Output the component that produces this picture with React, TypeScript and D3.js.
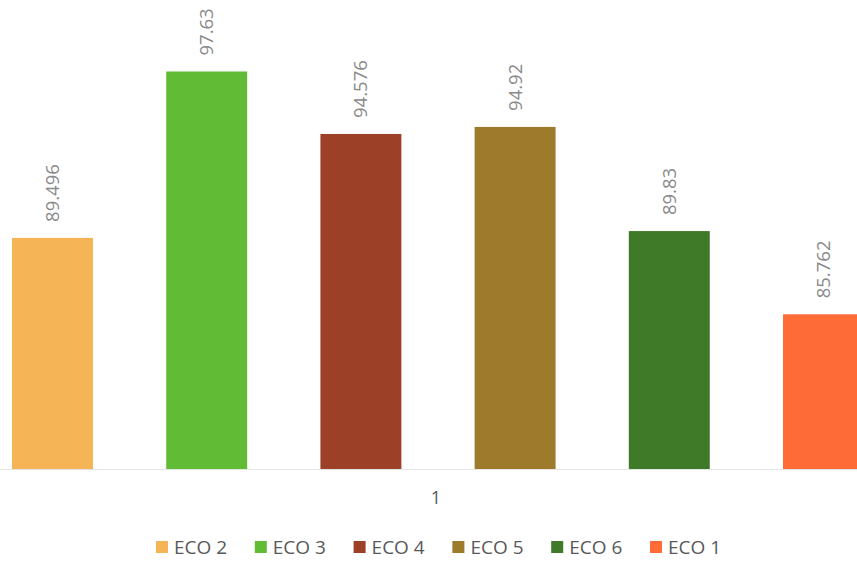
import React from "react";
import * as d3 from "d3";

const seriesNames = ["ECO 2", "ECO 3", "ECO 4", "ECO 5", "ECO 6", "ECO 1"];
const seriesValues = [89.496, 97.63, 94.576, 94.92, 89.83, 85.762];
const seriesColors = ["#F5B556", "#62BB34", "#9C4128", "#9D7A2C", "#3E7A27", "#FE6B36"];
const categoryLabels = ["1"];

const W = 857;
const H = 562;
const FONT = "'Open Sans', Calibri, sans-serif";

export default function App() {
  const x = d3
    .scaleBand<string>()
    .domain(seriesNames)
    .range([-24.6, 900.6])
    .paddingInner(0.475)
    .paddingOuter(0.2375);
  const y = d3.scaleLinear().domain([78.2, 100]).range([469, 23]);
  const baseY = y(78.2);

  const legendStart = 156;
  const legendStep = 98.8;

  return (
    <svg
      width={W}
      height={H}
      style={{ position: "absolute", left: 0, top: 0, background: "#fff" }}
      fontFamily={FONT}
    >
      <rect x={0} y={0} width={W} height={H} fill="#fff" />
      <line x1={0} x2={W} y1={baseY + 0.5} y2={baseY + 0.5} stroke="#e4e4e4" strokeWidth={1} />
      {seriesNames.map((name, i) => {
        const bx = x(name)!;
        const bw = x.bandwidth();
        const top = y(seriesValues[i]);
        const cx = bx + bw / 2;
        const ly = top - 16;
        return (
          <g key={name}>
            <rect x={bx} y={top} width={bw} height={baseY - top} fill={seriesColors[i]} />
            <text
              transform={`translate(${cx + 6.5},${ly}) rotate(-90)`}
              fontSize={18.5}
              fill="#8a8a8a"
              textAnchor="start"
            >
              {String(seriesValues[i])}
            </text>
          </g>
        );
      })}
      <text x={436} y={504} fontSize={18} fill="#595959" textAnchor="middle">
        {categoryLabels[0]}
      </text>
      {seriesNames.map((name, i) => {
        const lx = legendStart + i * legendStep;
        return (
          <g key={"lg" + name}>
            <rect x={lx} y={541} width={12} height={12} fill={seriesColors[i]} />
            <text x={lx + 18} y={554} fontSize={19} fill="#595959">
              {name}
            </text>
          </g>
        );
      })}
    </svg>
  );
}
